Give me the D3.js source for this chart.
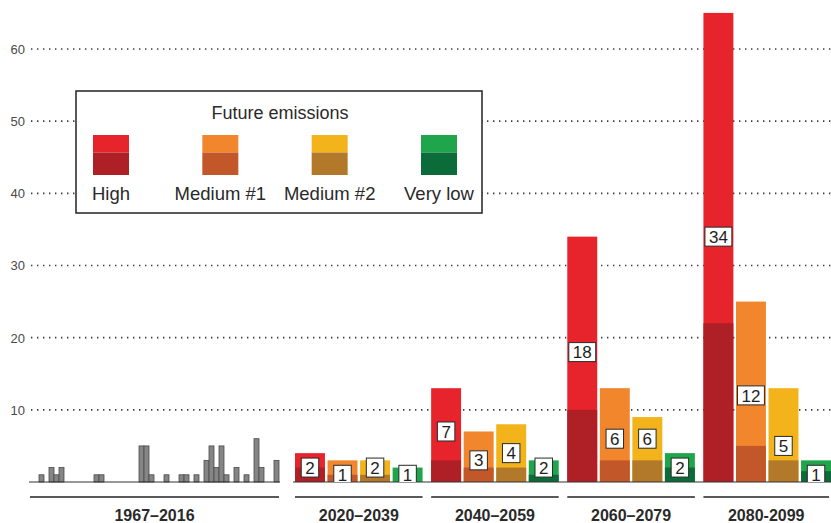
<!DOCTYPE html>
<html>
<head>
<meta charset="utf-8">
<script src="https://cdn.jsdelivr.net/npm/d3@7"></script>
<style>
  html, body { margin: 0; padding: 0; background: #fff; }
  svg { display: block; font-family: "Liberation Sans", Arial, Helvetica, sans-serif; }
</style>
</head>
<body>
<svg id="chart" width="831" height="523"></svg>
<script>
// Observed yearly counts, 1967–2016
const histYears = [1967,1968,1969,1970,1971,1972,1973,1974,1975,1976,
                   1977,1978,1979,1980,1981,1982,1983,1984,1985,1986,
                   1987,1988,1989,1990,1991,1992,1993,1994,1995,1996,
                   1997,1998,1999,2000,2001,2002,2003,2004,2005,2006,
                   2007,2008,2009,2010,2011,2012,2013,2014,2015,2016];
const histCounts = [0,0,1,0,2,1,2,0,0,0,
                    0,0,0,1,1,0,0,0,0,0,
                    0,0,5,5,1,0,0,1,0,0,
                    1,1,0,1,0,3,5,2,5,1,
                    0,2,0,1,0,6,2,0,0,3];
const histLabel = "1967–2016";

// Projected 20-year periods and emission scenarios
const periods = ["2020–2039", "2040–2059", "2060–2079", "2080-2099"];
const scenarios = ["High", "Medium #1", "Medium #2", "Very low"];

// Per scenario, one value per period: upper end, central value, lower end
const upperHigh = [4, 13, 34, 65];
const upperMed1 = [3, 7, 13, 25];
const upperMed2 = [3, 8, 9, 13];
const upperVeryLow = [2, 3, 4, 3];

const centralHigh = [2, 7, 18, 34];
const centralMed1 = [1, 3, 6, 12];
const centralMed2 = [2, 4, 6, 5];
const centralVeryLow = [1, 2, 2, 1];

const lowerHigh = [2, 3, 10, 22];
const lowerMed1 = [1, 2, 3, 5];
const lowerMed2 = [1, 2, 3, 3];
const lowerVeryLow = [0, 1, 2, 1.5];

const yTicks = [10, 20, 30, 40, 50, 60];
const legendTitle = "Future emissions";

const lightColors = ["#e7242b", "#f2862c", "#f3b31b", "#1fa54b"];
const darkColors  = ["#af1f26", "#c25729", "#b3792b", "#0b6b39"];

const upper = [upperHigh, upperMed1, upperMed2, upperVeryLow];
const central = [centralHigh, centralMed1, centralMed2, centralVeryLow];
const lower = [lowerHigh, lowerMed1, lowerMed2, lowerVeryLow];

const futureData = [];
periods.forEach((p, pi) => {
  scenarios.forEach((s, si) => {
    futureData.push({ period: p, scenario: s, si,
      upper: upper[si][pi], central: central[si][pi], lower: lower[si][pi] });
  });
});

const svg = d3.select("#chart");
const baseY = 482;

const y = d3.scaleLinear().domain([0, 60]).range([baseY, 49]);

const xHist = d3.scaleBand().domain(histYears).range([29, 279]).padding(0);
const xPeriod = d3.scaleBand().domain(periods).range([295, 831]).paddingInner(0.063).paddingOuter(0);
const xScen = d3.scaleBand().domain(scenarios).range([0, xPeriod.bandwidth()]).paddingInner(0.08).paddingOuter(0);

// Dotted gridlines with tick labels
const yAxis = d3.axisLeft(y).tickValues(yTicks).tickSize(0).tickPadding(0);
const gAxis = svg.append("g").attr("transform", "translate(25,0)").call(yAxis);
gAxis.select(".domain").remove();
gAxis.selectAll("text")
  .attr("font-size", 13).attr("fill", "#4a4a4a")
  .attr("font-family", "Liberation Sans, Arial, sans-serif")
  .attr("dy", "0.34em");

svg.append("g").selectAll("line")
  .data(yTicks).join("line")
  .attr("x1", 31).attr("x2", 831)
  .attr("y1", d => y(d)).attr("y2", d => y(d))
  .attr("stroke", "#3a3a3a").attr("stroke-width", 1.6)
  .attr("stroke-dasharray", "1.4,4.6");

// Observed bars
svg.append("g").selectAll("rect")
  .data(histYears.map((yr, i) => ({ yr, v: histCounts[i] })).filter(d => d.v > 0))
  .join("rect")
  .attr("x", d => xHist(d.yr))
  .attr("width", xHist.bandwidth())
  .attr("y", d => y(d.v))
  .attr("height", d => baseY - y(d.v))
  .attr("fill", "#858585")
  .attr("stroke", "#4a4a4a").attr("stroke-width", 0.8);

// Projected bars: full range in light colour, lower part darker
const gFuture = svg.append("g");
const barX = d => xPeriod(d.period) + xScen(d.scenario);
gFuture.selectAll("rect.upper")
  .data(futureData).join("rect").attr("class", "upper")
  .attr("x", barX).attr("width", xScen.bandwidth())
  .attr("y", d => y(d.upper)).attr("height", d => baseY - y(d.upper))
  .attr("fill", d => lightColors[d.si]);
gFuture.selectAll("rect.lower")
  .data(futureData.filter(d => d.lower > 0)).join("rect").attr("class", "lower")
  .attr("x", barX).attr("width", xScen.bandwidth())
  .attr("y", d => y(d.lower)).attr("height", d => baseY - y(d.lower))
  .attr("fill", d => darkColors[d.si]);

// Baselines
svg.append("line").attr("x1", 29).attr("x2", 280).attr("y1", baseY).attr("y2", baseY)
  .attr("stroke", "#333").attr("stroke-width", 1.2);
svg.append("line").attr("x1", 293).attr("x2", 831).attr("y1", baseY).attr("y2", baseY)
  .attr("stroke", "#333").attr("stroke-width", 1.2);

// Central value boxes, clipped at the baseline
svg.append("clipPath").attr("id", "plotClip")
  .append("rect").attr("x", 0).attr("y", 0).attr("width", 831).attr("height", baseY);
const gLab = svg.append("g").attr("clip-path", "url(#plotClip)");
const labs = gLab.selectAll("g").data(futureData).join("g")
  .attr("transform", d => `translate(${barX(d) + xScen.bandwidth() / 2},${y(d.central)})`);
labs.append("text")
  .attr("text-anchor", "middle").attr("dy", "0.36em")
  .attr("font-size", 17).attr("fill", "#1e1e1e")
  .text(d => d.central);
labs.each(function() {
  const g = d3.select(this);
  const bb = g.select("text").node().getBBox();
  const w = bb.width + 8, h = 19;
  g.insert("rect", "text")
    .attr("x", -w / 2).attr("y", -h / 2).attr("width", w).attr("height", h)
    .attr("fill", "#fff").attr("stroke", "#2a2a2a").attr("stroke-width", 1);
});

// Period underlines and labels
const spans = [{ label: histLabel, x0: 30, x1: 279 }].concat(
  periods.map(p => ({ label: p, x0: xPeriod(p), x1: xPeriod(p) + xPeriod.bandwidth() })));
spans[spans.length - 1].x1 = 829;
const gSpan = svg.append("g");
gSpan.selectAll("line").data(spans).join("line")
  .attr("x1", d => d.x0).attr("x2", d => d.x1)
  .attr("y1", 497).attr("y2", 497)
  .attr("stroke", "#222").attr("stroke-width", 1.6);
gSpan.selectAll("text").data(spans).join("text")
  .attr("x", d => (d.x0 + d.x1) / 2).attr("y", 521)
  .attr("text-anchor", "middle")
  .attr("font-size", 16).attr("font-weight", "bold").attr("fill", "#2a2a2a")
  .text(d => d.label);

// Legend
const gLeg = svg.append("g");
gLeg.append("rect").attr("x", 76).attr("y", 91).attr("width", 406).attr("height", 122)
  .attr("fill", "#fff").attr("stroke", "#222").attr("stroke-width", 1.5);
gLeg.append("text").attr("x", 280).attr("y", 118.5).attr("text-anchor", "middle")
  .attr("font-size", 18).attr("fill", "#2a2a2a").text(legendTitle);
const legX = d3.scalePoint().domain(scenarios).range([111, 439]);
const items = gLeg.selectAll("g.item").data(scenarios).join("g").attr("class", "item")
  .attr("transform", d => `translate(${legX(d)},0)`);
items.append("rect").attr("x", -18).attr("y", 135).attr("width", 36).attr("height", 17.5)
  .attr("fill", (d, i) => lightColors[i]);
items.append("rect").attr("x", -18).attr("y", 152.5).attr("width", 36).attr("height", 22.5)
  .attr("fill", (d, i) => darkColors[i]);
items.append("text").attr("y", 200).attr("text-anchor", "middle")
  .attr("font-size", 18.5).attr("fill", "#2a2a2a").text(d => d);
</script>
</body>
</html>
